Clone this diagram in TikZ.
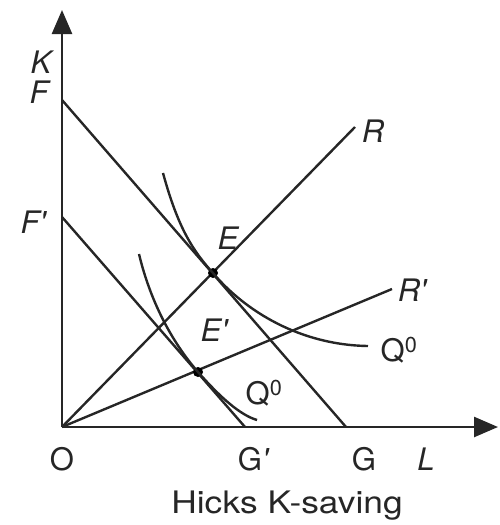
\documentclass[tikz,border=0pt]{standalone}
\usepackage{fontspec}
\setmainfont{TeX Gyre Heros}
\usetikzlibrary{arrows.meta}
\newcommand{\pr}{{\itshape\textquotesingle}}
\begin{document}
\begin{tikzpicture}[x=1pt,y=-1pt,
  ln/.style={line width=2.4pt, draw=black!85},
  ax/.style={line width=2.6pt, draw=black!85, -{Triangle[length=24pt,width=20pt]}},
  dot/.style={circle, fill=black, inner sep=0pt, minimum size=10pt},
  lab/.style={font=\fontsize{31}{31}\selectfont\itshape, inner sep=0pt, text=black!85},
  labu/.style={font=\fontsize{31}{31}\selectfont, inner sep=0pt, text=black!85}]
\useasboundingbox (0,0) rectangle (499,525);
% points
\coordinate (O) at (62,427);
\coordinate (Ytop) at (62,10);
\coordinate (Xend) at (498,427);
\coordinate (F) at (62,100);
\coordinate (G) at (346,427);
\coordinate (Fp) at (62,217);
\coordinate (Gp) at (245,427);
\coordinate (Rend) at (355,127);
\coordinate (Rpend) at (392,289);
\coordinate (Q1s) at (163,173);
\coordinate (Q1e) at (368,346);
\coordinate (Q2s) at (139,254);
\coordinate (Q2e) at (257,420);
% axes
\draw[ax] (O) -- (Ytop);
\draw[ax] (O) -- (Xend);
% isocost lines
\draw[ln] (F) -- (G);
\draw[ln] (Fp) -- (Gp);
% rays
\draw[ln] (O) -- (Rend);
\draw[ln] (O) -- (Rpend);
% equilibrium points
\node[dot] (E) at (213,273) {};
\node[dot] (Ep) at (198,372) {};
% isoquants
\draw[ln] (Q1s) .. controls (178,228) and (193,251) .. (E.center)
  .. controls (245,311) and (300,345) .. (Q1e);
\draw[ln] (Q2s) .. controls (150,300) and (171,341) .. (Ep.center)
  .. controls (220,397) and (240,415) .. (Q2e);
% labels
\node[lab] (lK) at (41,62) {K};
\node[lab] (lF) at (39,92) {F};
\node[lab] (lFp) at (33,222) {F\pr};
\node[lab] (lE) at (228,238) {E};
\node[lab] (lEp) at (214,330) {E\pr};
\node[lab] (lR) at (373,131) {R};
\node[lab] (lRp) at (412,290) {R\pr};
\node[labu] (lQ1) at (399,350) {Q\textsuperscript{0}};
\node[labu] (lQ2) at (264,393) {Q\textsuperscript{0}};
\node[labu] (lO) at (62,459) {O};
\node[labu] (lGp) at (253,459) {G\pr};
\node[labu] (lG) at (364,459) {G};
\node[lab] (lL) at (426,459) {L};
\node[labu, anchor=base] (cap) at (287,513) {\scalebox{1.14}[1]{Hicks K-saving}};
\end{tikzpicture}
\end{document}
